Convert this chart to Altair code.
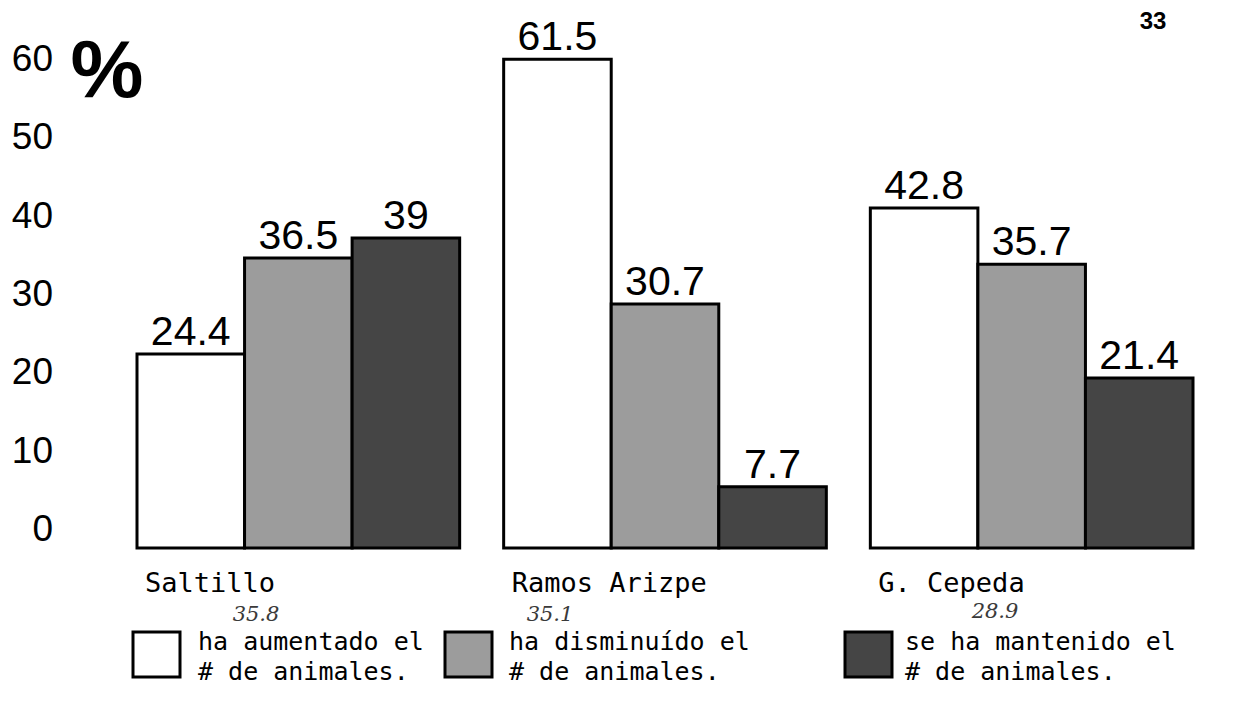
import altair as alt
import pandas as pd

groups = ["Saltillo", "Ramos Arizpe", "G. Cepeda"]
series = ["ha aumentado el", "ha disminuído el", "se ha mantenido el"]
series_line2 = "# de animales."
aumentado = [24.4, 61.5, 42.8]
disminuido = [36.5, 30.7, 35.7]
mantenido = [39, 7.7, 21.4]
fills = ["#ffffff", "#9c9c9c", "#454545"]
tick_values = [0, 10, 20, 30, 40, 50, 60]
handwritten = ["35.8", "35.1", "28.9"]

rows = []
for s, vals in zip(series, [aumentado, disminuido, mantenido]):
    for g, v in zip(groups, vals):
        rows.append({"group": g, "series": s, "value": v, "label": f"{v:g}"})
df = pd.DataFrame(rows)
ticks_df = pd.DataFrame({"tick": tick_values})
groups_df = pd.DataFrame({"group": groups})
one = pd.DataFrame({"k": [0]})

MONO = "DejaVu Sans Mono"
SANS = "Liberation Sans"

xscale = alt.Scale(paddingInner=0.12, paddingOuter=0)
xenc = alt.X("group:N", sort=groups, axis=None, scale=xscale)
xoff = alt.XOffset("series:N", sort=series,
                   scale=alt.Scale(paddingInner=0, paddingOuter=0))
yenc = alt.Y("value:Q", axis=None, scale=alt.Scale(domain=[0, 63.8], nice=False))
fill_scale = alt.Scale(domain=series, range=fills)

bars = alt.Chart(df).mark_bar(stroke="black", strokeWidth=3, strokeJoin="miter").encode(
    x=xenc, xOffset=xoff, y=yenc,
    fill=alt.Fill("series:N", sort=series, scale=fill_scale, legend=None),
)

value_labels = alt.Chart(df).mark_text(
    font=SANS, fontSize=41, baseline="alphabetic", dy=-9, color="black"
).encode(x=xenc, xOffset=xoff, y=yenc, text="label:N")

cat_labels = alt.Chart(groups_df).mark_text(
    font=MONO, fontSize=27, align="left", baseline="alphabetic",
    dx=8, color="black"
).encode(
    x=alt.X("group:N", sort=groups, bandPosition=0, axis=None, scale=xscale),
    y=alt.value(551), text="group:N")

tick_labels = alt.Chart(ticks_df).mark_text(
    font=SANS, fontSize=37, align="right", baseline="middle", color="black"
).encode(
    x=alt.value(-84),
    y=alt.Y("tick:Q", axis=None, scale=alt.Scale(domain=[0, 60], range=[489, 19])),
    text="tick:Q")

percent = alt.Chart(one).mark_text(
    text="%", font=SANS, fontSize=82, fontWeight="bold", align="center",
    baseline="middle", color="black"
).encode(x=alt.value(-30), y=alt.value(31))

page = alt.Chart(one).mark_text(
    text="33", font=SANS, fontSize=24, fontWeight="bold", align="center",
    baseline="middle", color="black"
).encode(x=alt.value(1016), y=alt.value(-19))

# legend: boxes + two-line texts, one entry per series
legend_layers = []
box_x = [-4, 308, 708]
text_x = [61, 372, 768]
for s, bx, tx in zip(series, box_x, text_x):
    sd = pd.DataFrame({"series": [s]})
    legend_layers.append(alt.Chart(sd).mark_rect(stroke="black", strokeWidth=3).encode(
        x=alt.value(bx), x2=alt.value(bx + 47), y=alt.value(591), y2=alt.value(636),
        fill=alt.Fill("series:N", sort=series, scale=fill_scale, legend=None)))
    legend_layers.append(alt.Chart(sd).mark_text(
        text=[s, series_line2], font=MONO, fontSize=25, lineHeight=30,
        align="left", baseline="alphabetic", color="black"
    ).encode(x=alt.value(tx), y=alt.value(609)))

hand_layers = []
for txt, hx, hy in zip(handwritten, [119, 413, 858], [574, 574, 571]):
    hand_layers.append(alt.Chart(one).mark_text(
        text=txt, font="DejaVu Serif", fontStyle="italic", fontSize=21,
        align="center", baseline="middle", color="#3a3a3a"
    ).encode(x=alt.value(hx), y=alt.value(hy)))

chart = alt.layer(
    bars, value_labels, cat_labels, tick_labels, percent, page,
    *legend_layers, *hand_layers
).resolve_scale(
    y="independent"
).properties(
    width=1056, height=507,
    background="white",
    autosize=alt.AutoSizeParams(type="none"),
    padding={"left": 129, "top": 33, "right": 35, "bottom": 140},
).configure_view(stroke=None)

chart.save("out.html", embed_options={"renderer": "svg", "actions": False})
